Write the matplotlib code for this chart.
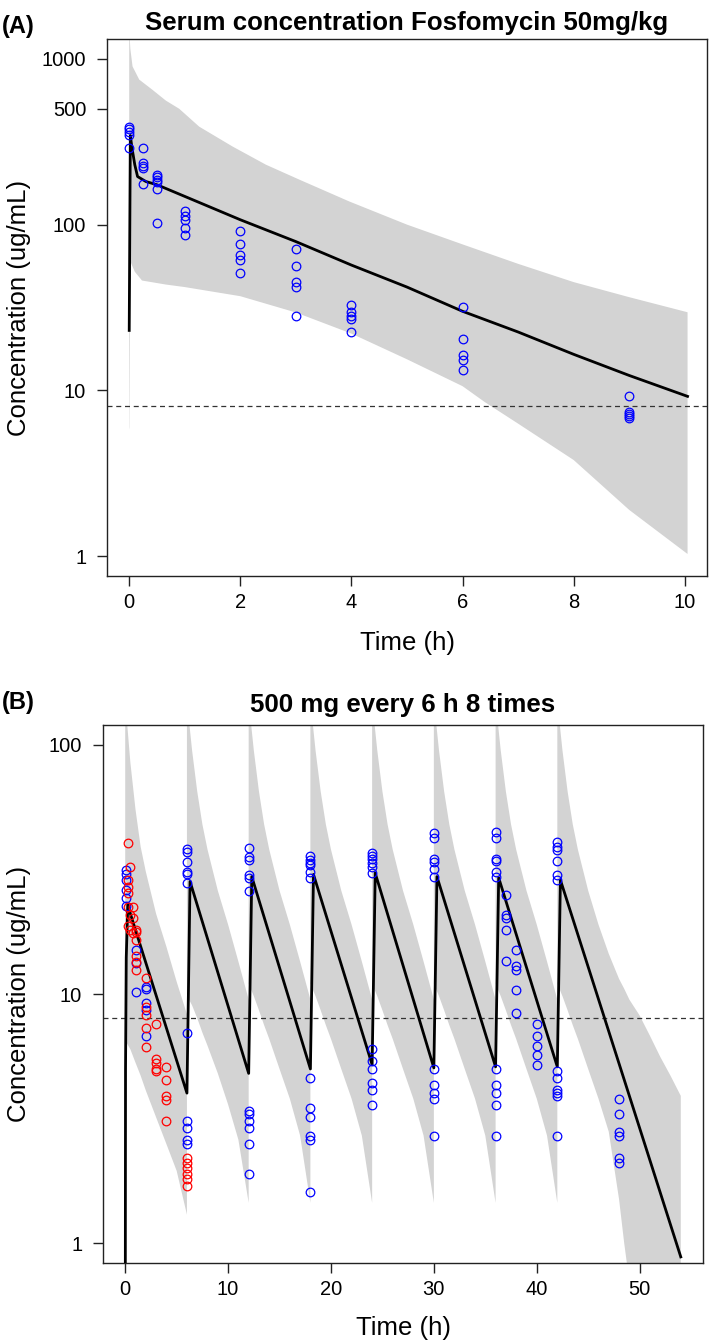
import numpy as np
import matplotlib
matplotlib.use("Agg")
import matplotlib.pyplot as plt
from matplotlib.ticker import NullLocator

plt.rcParams['font.family'] = ['Liberation Sans', 'DejaVu Sans']

# ---------------- panel A : serum, 50 mg/kg ----------------
obs_a_time = [0, 0, 0, 0, 0,
              0.25, 0.25, 0.25, 0.25, 0.25,
              0.5, 0.5, 0.5, 0.5, 0.5, 0.5,
              1, 1, 1, 1, 1,
              2, 2, 2, 2, 2,
              3, 3, 3, 3, 3,
              4, 4, 4, 4, 4,
              6, 6, 6, 6, 6,
              9, 9, 9, 9, 9]
obs_a_conc = [390, 375, 360, 345, 290,
              291, 236, 227, 220, 177,
              200, 195, 187, 182, 165, 103,
              121, 113, 107, 96, 86,
              91, 76, 66, 61, 51,
              71, 56, 45, 42, 28,
              32.7, 29.6, 28, 26.8, 22.6,
              31.9, 20.3, 16.4, 15.2, 13.3,
              9.3, 7.4, 7.2, 7.0, 6.8]

pred_a_time = [0, 0.02, 0.05, 0.1, 0.15, 0.3, 0.5, 1, 2, 3, 4, 5, 6, 7, 8, 9, 10.05]
pred_a_conc = [23, 345, 290, 230, 195, 182, 174, 148, 107, 79, 57, 42, 30, 22.5, 16.5, 12.3, 9.2]

hi_a_time = [0, 0.02, 0.06, 0.18, 0.42, 0.66, 0.9, 1.26, 1.86, 2.46, 3.06, 3.96, 5, 6, 7, 8, 9, 10.05]
hi_a_conc = [1500, 1150, 900, 750, 650, 560, 500, 390, 296, 230, 187, 138, 100, 76, 58, 45, 36.5, 29.6]
lo_a_time = [0, 0.005, 0.02, 0.1, 0.23, 0.66, 1, 2, 3, 4, 5, 6, 6.4, 7, 8, 9, 10.05]
lo_a_conc = [5.8, 6.0, 60, 52, 46, 43.5, 42, 37, 29.5, 22, 15.4, 10.6, 8.5, 6.3, 3.8, 1.9, 1.03]

# ---------------- panel B : 500 mg every 6 h, 8 doses ----------------
red_b_time = [0.25, 0.25, 0.25, 0.25, 0.25, 0.25,
              0.5, 0.5, 0.5,
              0.75, 0.75, 0.75,
              1, 1, 1, 1, 1, 1,
              2, 2, 2, 2, 2,
              3, 3, 3, 3, 3,
              4, 4, 4, 4, 4,
              6, 6, 6, 6, 6, 6]
red_b_conc = [40.3, 28.7, 26.9, 25.4, 22.4, 18.7,
              32.3, 20.8, 18.1,
              22.4, 20.2, 17.6,
              18.1, 17.8, 16.5, 14.2, 13.5, 12.5,
              11.6, 8.9, 8.2, 7.3, 6.1,
              7.6, 5.5, 5.3, 5.0, 4.9,
              5.1, 4.5, 3.9, 3.75, 3.1,
              2.2, 2.1, 2.0, 1.9, 1.8, 1.7]

blue_b_time = [0.1, 0.1, 0.1, 0.1, 0.1, 0.1,
               1, 1, 1,
               2, 2, 2, 2, 2,
               6, 6, 6, 6, 6, 6, 6, 6, 6, 6, 6,
               12, 12, 12, 12, 12, 12, 12, 12, 12, 12, 12, 12,
               18, 18, 18, 18, 18, 18, 18, 18, 18, 18, 18, 18,
               24, 24, 24, 24, 24, 24, 24, 24, 24, 24, 24, 24,
               30, 30, 30, 30, 30, 30, 30, 30, 30, 30, 30,
               36, 36, 36, 36, 36, 36, 36, 36, 36, 36, 36,
               37, 37, 37, 37, 37,
               38, 38, 38, 38, 38,
               40, 40, 40, 40, 40,
               42, 42, 42, 42, 42, 42, 42, 42, 42, 42, 42, 42,
               48, 48, 48, 48, 48, 48]
blue_b_conc = [31.6, 30.4, 28.7, 26.2, 24.2, 22.5,
               15.0, 13.3, 10.2,
               10.7, 10.5, 9.2, 8.6, 6.8,
               38.1, 37.2, 34.0, 31.0, 30.4, 28.0, 7.0, 3.1, 2.9, 2.6, 2.5,
               38.4, 35.6, 34.5, 30.1, 29.2, 25.8, 3.4, 3.3, 3.1, 2.9, 2.5, 1.9,
               35.9, 34.5, 33.7, 33.0, 31.0, 29.2, 4.6, 3.5, 3.2, 2.7, 2.6, 1.6,
               36.9, 35.9, 34.7, 33.5, 32.5, 30.7, 6.0, 5.4, 5.0, 4.4, 4.1, 3.6,
               44.2, 42.2, 34.7, 34.0, 31.9, 29.6, 5.0, 4.3, 4.0, 3.8, 2.7,
               44.8, 42.2, 34.8, 34.2, 31.0, 29.6, 5.0, 4.3, 4.0, 3.6, 2.7,
               25.0, 20.8, 20.2, 18.1, 13.6,
               15.0, 13.0, 12.5, 10.4, 8.4,
               7.6, 6.8, 6.2, 5.7, 5.2,
               40.9, 39.0, 37.9, 34.2, 30.1, 28.7, 4.9, 4.6, 4.1, 4.0, 3.9, 2.7,
               3.8, 3.3, 2.8, 2.7, 2.2, 2.1]

pred_b_time = [0, 0.03, 0.1, 0.25, 0.5, 6.0, 6.3, 12.0, 12.3, 18.0, 18.3,
               24.0, 24.3, 30.0, 30.3, 36.0, 36.3, 42.0, 42.3, 54.0]
pred_b_conc = [0.3, 5, 14, 23, 21, 4.0, 28.3, 4.8, 29.6, 5.0, 30.2,
               5.2, 30.6, 5.05, 29.6, 5.1, 29.3, 5.1, 28.7, 0.88]

# prediction band, one piece per dose (time since dose)
doses_b = [0, 6, 12, 18, 24, 30, 36, 42]
tau_b = [0, 0.2, 0.5, 1, 1.5, 2, 3, 4, 5, 6]
tau_last = [0, 0.2, 0.5, 1, 1.5, 2, 3, 4, 5, 6, 6.5, 7, 8, 9, 10, 11, 12]
hi_b = [[200, 120, 85, 55, 39, 31, 21, 15.5, 11.2, 8.3],
        [200, 125, 95, 65, 48, 38, 26, 19, 13.5, 9.5],
        [200, 125, 95, 65, 48, 38, 26, 19, 13.5, 9.5],
        [200, 125, 95, 65, 48, 38, 26, 19, 13.5, 9.5],
        [200, 125, 95, 65, 48, 38, 26, 19, 13.5, 9.5],
        [200, 125, 95, 65, 48, 38, 26, 19, 13.5, 9.5],
        [200, 125, 95, 65, 48, 38, 26, 19, 13.5, 9.5],
        [200, 125, 95, 65, 48, 38, 26, 19, 14.5, 11.5, 10.5, 9.5, 8.2, 6.8, 5.6, 4.7, 3.9]]
lo_b = [[6.5, 6.3, 6.0, 5.3, 4.7, 4.1, 3.2, 2.5, 1.95, 1.3],
        [10, 9.5, 9.0, 8.0, 7.0, 6.2, 4.8, 3.6, 2.6, 1.45],
        [11, 10.5, 9.8, 8.6, 7.5, 6.6, 5.0, 3.8, 2.7, 1.45],
        [11, 10.5, 9.8, 8.6, 7.5, 6.6, 5.0, 3.8, 2.7, 1.45],
        [11, 10.5, 9.8, 8.6, 7.5, 6.6, 5.0, 3.8, 2.7, 1.45],
        [11, 10.5, 9.8, 8.6, 7.5, 6.6, 5.0, 3.8, 2.7, 1.45],
        [11, 10.5, 9.8, 8.6, 7.5, 6.6, 5.0, 3.8, 2.7, 1.45],
        [11, 10.5, 9.8, 8.6, 7.5, 6.6, 5.0, 3.8, 2.8, 1.5, 1.0, 0.7, 0.4, 0.25, 0.15, 0.1, 0.05]]

mic = 8

band_col = '#d3d3d3'


def style_axes(ax, xticks, yticks):
    ax.set_yscale('log')
    ax.set_xticks(xticks)
    ax.set_yticks(yticks)
    ax.set_yticklabels([str(v) for v in yticks])
    ax.yaxis.set_minor_locator(NullLocator())
    ax.tick_params(axis='both', direction='out', length=7.5, width=1.0,
                   labelsize=14.5, color='#222222')
    ax.tick_params(axis='x', pad=5)
    ax.tick_params(axis='y', pad=7.5)
    for s in ax.spines.values():
        s.set_linewidth(1.0)
        s.set_color('#222222')


fig = plt.figure(figsize=(7.09, 13.43), dpi=100)

# ---- A ----
axA = fig.add_axes([107 / 709, 1 - 576 / 1343, 600 / 709, 537 / 1343])
poly_x = np.concatenate([hi_a_time, lo_a_time[::-1]])
poly_y = np.concatenate([hi_a_conc, lo_a_conc[::-1]])
axA.fill(poly_x, poly_y, color=band_col, lw=0, zorder=1)
axA.axhline(mic, color='#333333', lw=0.9, ls=(0, (4, 3)), zorder=2)
axA.plot(pred_a_time, pred_a_conc, color='black', lw=2.0, zorder=3)
axA.plot(obs_a_time, obs_a_conc, 'o', mfc='none', mec='blue', ms=6.2, mew=0.9, zorder=4)
style_axes(axA, [0, 2, 4, 6, 8, 10], [1, 10, 100, 500, 1000])
axA.set_xlim(-0.4, 10.4)
axA.set_ylim(10 ** -0.12, 10 ** 3.12)
axA.set_title('Serum concentration Fosfomycin 50mg/kg', fontsize=18.6,
              fontweight='bold', pad=6.5)
axA.set_xlabel('Time (h)', fontsize=18.5)
axA.set_ylabel('Concentration (ug/mL)', fontsize=18.5)
axA.xaxis.set_label_coords(0.5, -0.102)
axA.yaxis.set_label_coords(-0.127, 0.5)

# ---- B ----
axB = fig.add_axes([103 / 709, 1 - 1263 / 1343, 600 / 709, 538 / 1343])
up_t, up_c, dn_t, dn_c = [], [], [], []
for k, d in enumerate(doses_b):
    tau = tau_last if k == len(doses_b) - 1 else tau_b
    up_t += [d + s for s in tau]
    up_c += hi_b[k]
    dn_t += [d + s for s in tau]
    dn_c += lo_b[k]
poly_x = np.concatenate([up_t, dn_t[::-1]])
poly_y = np.concatenate([up_c, dn_c[::-1]])
axB.fill(poly_x, poly_y, color=band_col, lw=0, zorder=1)
axB.axhline(mic, color='#333333', lw=0.9, ls=(0, (4, 3)), zorder=2)
axB.plot(pred_b_time, pred_b_conc, color='black', lw=2.0, zorder=3)
axB.plot(blue_b_time, blue_b_conc, 'o', mfc='none', mec='blue', ms=6.2, mew=0.9, zorder=4)
axB.plot(red_b_time, red_b_conc, 'o', mfc='none', mec='red', ms=6.2, mew=0.9, zorder=5)
style_axes(axB, [0, 10, 20, 30, 40, 50], [1, 10, 100])
axB.set_xlim(-2.16, 56.16)
axB.set_ylim(10 ** -0.08, 10 ** 2.08)
axB.set_title('500 mg every 6 h 8 times', fontsize=18.6, fontweight='bold', pad=9.5)
axB.set_xlabel('Time (h)', fontsize=18.5)
axB.set_ylabel('Concentration (ug/mL)', fontsize=18.5)
axB.xaxis.set_label_coords(0.5, -0.098)
axB.yaxis.set_label_coords(-0.12, 0.5)

fig.text(0.003, 1 - 27 / 1343, '(A)', fontsize=17, fontweight='bold', ha='left', va='center')
fig.text(0.003, 1 - 703 / 1343, '(B)', fontsize=17, fontweight='bold', ha='left', va='center')

fig.savefig('out.png', dpi=100)
